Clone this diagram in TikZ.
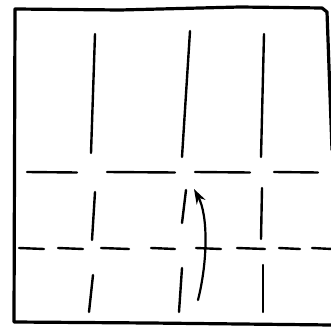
\documentclass[tikz,border=0pt]{standalone}
\usetikzlibrary{arrows.meta}

\begin{document}
\begin{tikzpicture}[x=1pt, y=-1pt,
    frame/.style={line width=3.2pt, line join=round, line cap=round},
    crease/.style={line width=2.4pt, line cap=round},
    arr/.style={-{Stealth[length=15pt, width=10pt]}, line width=2.2pt, line cap=round}
]
\useasboundingbox (0,0) rectangle (330,331);
% paper
\draw[frame] (332,150) -- (327,12) -- (322,8) -- (240,7) -- (120,10) -- (15,9) -- (14,322) -- (150,323) -- (332,325);
% vertical creases
\foreach \xa/\ya/\xb/\yb in {95/34/91/153, 95/192/92/240, 93/275/89/312,
    190/31/182/157, 186/190/182/223, 182/268/179/312,
    264/34/261/157, 262/188/261/239, 263/265/263/312}
    \draw[crease] (\xa,\ya) -- (\xb,\yb);
% mountain fold
\foreach \xa/\xb in {27/77, 107/175, 195/250, 274/318}
    \draw[crease] (\xa,172) -- (\xb,172.5);
% valley fold
\foreach \xa/\xb in {19/44, 58/83, 101/129, 151/175, 196/221, 237/265, 279/300, 312/332}
    \draw[crease] (\xa,248) -- (\xb,249);
% turn up
\coordinate (from) at (198,300);
\coordinate (to) at (194,189);
\draw[arr] (from) .. controls (208,260) and (208,215) .. (to);
\end{tikzpicture}
\end{document}
